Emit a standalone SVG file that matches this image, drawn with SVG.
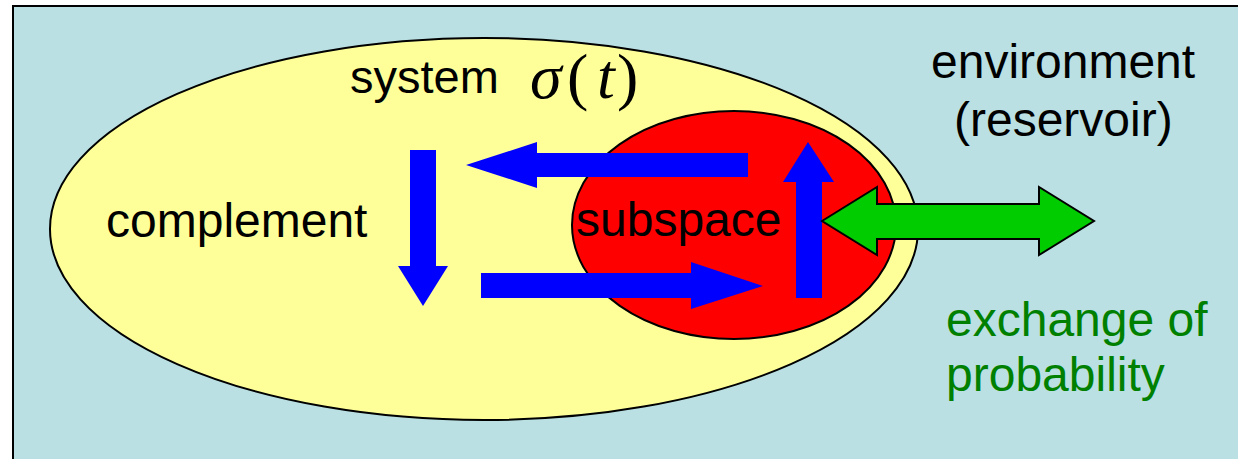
<svg xmlns="http://www.w3.org/2000/svg" width="1238" height="459" viewBox="0 0 1238 459">
<style>
.t{font-family:"Liberation Sans",Arial,sans-serif;font-size:48px;fill:#000}
.g{fill:#008000}
.m{font-family:"Liberation Serif","Times New Roman",serif;font-size:64px;fill:#000}
.blue{fill:#0000FF;stroke:none}
</style>
<rect width="1238" height="459" fill="#FFFFFF"/>
<rect id="frame" x="13" y="6" width="1240" height="470" fill="#BAE0E3" stroke="#000" stroke-width="2"/>
<g id="system">
<ellipse cx="484" cy="229" rx="434" ry="191" fill="#FFFF99" stroke="#000" stroke-width="2"/>
<text class="t" x="350" y="93" style="font-size:47px">system</text>
<text class="m" y="98"><tspan x="530" font-style="italic">σ</tspan><tspan x="567">(</tspan><tspan x="597" font-style="italic">t</tspan><tspan x="617">)</tspan></text>
</g>
<g id="subspace">
<ellipse cx="734" cy="225" rx="162" ry="114" fill="#FF0000" stroke="#000" stroke-width="2"/>
<text class="t" x="576" y="236">subspace</text>
</g>
<g id="complement">
<text class="t" x="106" y="237">complement</text>
</g>
<g id="environment">
<text class="t" x="931" y="78">environment</text>
<text class="t" x="954" y="136">(reservoir)</text>
<text class="t g" x="946" y="336">exchange of</text>
<text class="t g" x="946" y="391">probability</text>
</g>
<g id="connectors">
<polygon class="blue" points="748,153 537,153 537,142 466,165 537,188 537,177 748,177"/>
<polygon class="blue" points="410,150 436,150 436,266 448,266 423,306 398,266 410,266"/>
<polygon class="blue" points="481,273 691,273 691,262 763,286 691,309 691,298 481,298"/>
<polygon class="blue" points="796,298 822,298 822,182 834,182 808,142 783,182 796,182"/>
<polygon points="822,221 877,187 877,204 1039,204 1039,187 1094,221 1039,255 1039,239 877,239 877,255" fill="#00CC00" stroke="#000" stroke-width="2" stroke-linejoin="miter"/>
</g>
</svg>
